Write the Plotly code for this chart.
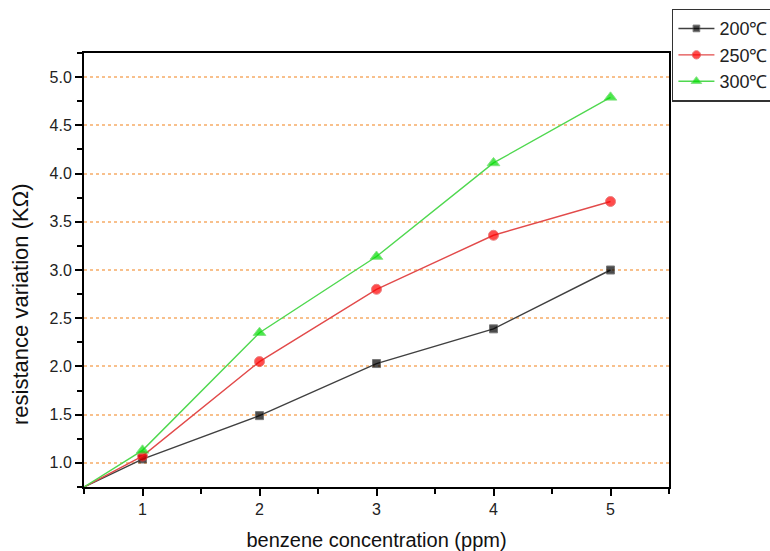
import plotly.graph_objects as go

x = [0.5, 1, 2, 3, 4, 5]
y200 = [0.75, 1.04, 1.49, 2.03, 2.39, 3.00]
y250 = [0.75, 1.07, 2.05, 2.80, 3.36, 3.71]
y300 = [0.75, 1.13, 2.35, 3.14, 4.11, 4.79]
names = ["200℃", "250℃", "300℃"]

F = "Liberation Sans"
fig = go.Figure()
series = [
    (y200, names[0], "#404040", "#000000", "square", 8),
    (y250, names[1], "#e24a4a", "#ff0000", "circle", 10),
    (y300, names[2], "#4fd84f", "#00dd00", "triangle-up", 11),
]
for ys, nm, lc, mc, sym, sz in series:
    fig.add_trace(go.Scatter(
        x=x, y=ys, name=nm, mode="lines+markers",
        line=dict(color=lc, width=1.4),
        marker=dict(color=mc, symbol=sym, size=[0] + [sz] * (len(x) - 1)),
        cliponaxis=False,
    ))

fig.add_annotation(text="resistance variation (KΩ)", textangle=-90,
                   xref="paper", yref="paper", x=-0.109, y=0.42,
                   xanchor="center", yanchor="middle", showarrow=False,
                   font=dict(family=F, size=22, color="#111"))

fig.update_layout(
    width=770, height=551,
    margin=dict(l=84, r=101, t=53, b=64, autoexpand=False),
    paper_bgcolor="white", plot_bgcolor="white",
    font=dict(family=F, color="#222", size=16),
    showlegend=True,
    legend=dict(x=1.005, y=1.102, xanchor="left", yanchor="top",
                bordercolor="#333", borderwidth=1.5, bgcolor="white",
                font=dict(family=F, size=18, color="#222"), tracegroupgap=0,
                itemwidth=36),
    xaxis=dict(range=[0.5, 5.5], tickvals=[1, 2, 3, 4, 5], showgrid=False,
               zeroline=False, showline=True, linecolor="black", linewidth=2,
               mirror=True, ticks="outside", ticklen=7, tickwidth=2, tickcolor="black",
               minor=dict(ticks="outside", dtick=0.5, tick0=0.5, ticklen=5, tickwidth=2, tickcolor="black"),
               title=dict(text="benzene concentration (ppm)", font=dict(family=F, size=20, color="#111"), standoff=17),
               tickfont=dict(family=F, size=16, color="#222")),
    yaxis=dict(range=[0.75, 5.25], tickvals=[1.0, 1.5, 2.0, 2.5, 3.0, 3.5, 4.0, 4.5, 5.0],
               tickformat=".1f", showgrid=True, gridcolor="#f8c08c", griddash="dot", gridwidth=1.5,
               zeroline=False, showline=True, linecolor="black", linewidth=2,
               mirror=True, ticks="outside", ticklen=7, tickwidth=2, tickcolor="black",
               minor=dict(ticks="outside", dtick=0.5, tick0=0.75, ticklen=5, tickwidth=2, tickcolor="black", showgrid=False),
               tickfont=dict(family=F, size=16, color="#222")),
)
fig.write_html("out.html")
